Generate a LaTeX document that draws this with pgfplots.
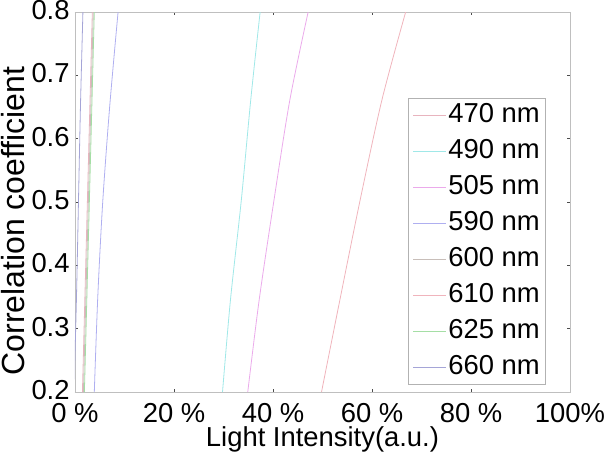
\documentclass[border=0pt]{standalone}
\usepackage{pgfplots}
\pgfplotsset{compat=1.18}
\usepackage{fontspec}
\setmainfont{Liberation Sans}

\definecolor{c470}{RGB}{232,180,190}
\definecolor{c490}{RGB}{160,232,232}
\definecolor{c505}{RGB}{235,170,235}
\definecolor{c590}{RGB}{175,175,240}
\definecolor{c600}{RGB}{200,190,185}
\definecolor{c610}{RGB}{240,180,188}
\definecolor{c625}{RGB}{165,222,165}
\definecolor{c660}{RGB}{165,165,215}

\begin{document}
\begin{tikzpicture}
\begin{axis}[
  scale only axis,
  width=247.5pt, height=190pt,
  xmin=0, xmax=100, ymin=0.2, ymax=0.8,
  xtick={0,20,40,60,80,100},
  xticklabels={0 \%,20 \%,40 \%,60 \%,80 \%,100\%},
  ytick={0.2,0.3,0.4,0.5,0.6,0.7,0.8},
  yticklabel style={/pgf/number format/fixed,/pgf/number format/precision=1,
    inner sep=0pt,xshift=-2.5pt,yshift=1pt},
  /pgf/number format/assume math mode=true,
  tick align=inside,
  major tick length=1.5pt,
  major tick style={black!70,line width=0.4pt},
  axis line style={black!25},
  tick label style={font=\fontsize{13.7}{15}\selectfont},
  xticklabel style={anchor=base,yshift=-15pt},
  xlabel={Light Intensity(a.u.)},
  ylabel={Correlation coefficient},
  xlabel style={font=\fontsize{13.7}{15}\selectfont,
    at={(axis description cs:0.5,-0.1447)},anchor=base},
  ylabel style={font=\fontsize{16}{18}\selectfont,
    at={(axis description cs:-0.125,0.45)},anchor=center},
  every axis plot/.append style={line width=0.4pt,smooth},
  legend style={at={(0.952,0.774)},anchor=north east,draw=black!30,
    font=\fontsize{13.7}{15}\selectfont,
    row sep=3pt,
    inner xsep=2pt,inner ysep=1pt,
    nodes={inner sep=1pt,text height=10pt,text depth=3pt},
    legend image post style={line width=0.4pt}},
  legend image code/.code={\draw[#1] (0pt,0pt) -- (16.5pt,0pt);},
  legend cell align=left,
]
\addplot[c470] coordinates {(1.5,0.2) (2.0,0.35) (2.5,0.5) (3.0,0.65) (3.5,0.8)};
\addplot[c490] coordinates {(29.8,0.2) (31.4,0.345) (33.6,0.503) (35.5,0.661) (37.4,0.8)};
\addplot[c505] coordinates {(34.9,0.2) (37.2,0.345) (40.2,0.503) (43.4,0.661) (47.1,0.8)};
\addplot[c590] coordinates {(3.9,0.2) (4.6,0.35) (5.6,0.5) (7.0,0.65) (8.7,0.8)};
\addplot[c600] coordinates {(1.7,0.2) (2.2,0.35) (2.7,0.5) (3.2,0.65) (3.7,0.8)};
\addplot[c610] coordinates {(49.8,0.2) (53.5,0.345) (57.6,0.503) (62.0,0.661) (66.8,0.8)};
\addplot[c625] coordinates {(1.9,0.2) (2.4,0.35) (2.9,0.5) (3.4,0.65) (3.9,0.8)};
\addplot[c660] coordinates {(-0.2,0.2) (0.3,0.35) (0.7,0.5) (1.1,0.65) (1.6,0.8)};
\legend{470 nm,490 nm,505 nm,590 nm,600 nm,610 nm,625 nm,660 nm}
\end{axis}
\pgfresetboundingbox
\path (-37.5pt,-32pt) rectangle (264.5pt,196pt);
\end{tikzpicture}
\end{document}
